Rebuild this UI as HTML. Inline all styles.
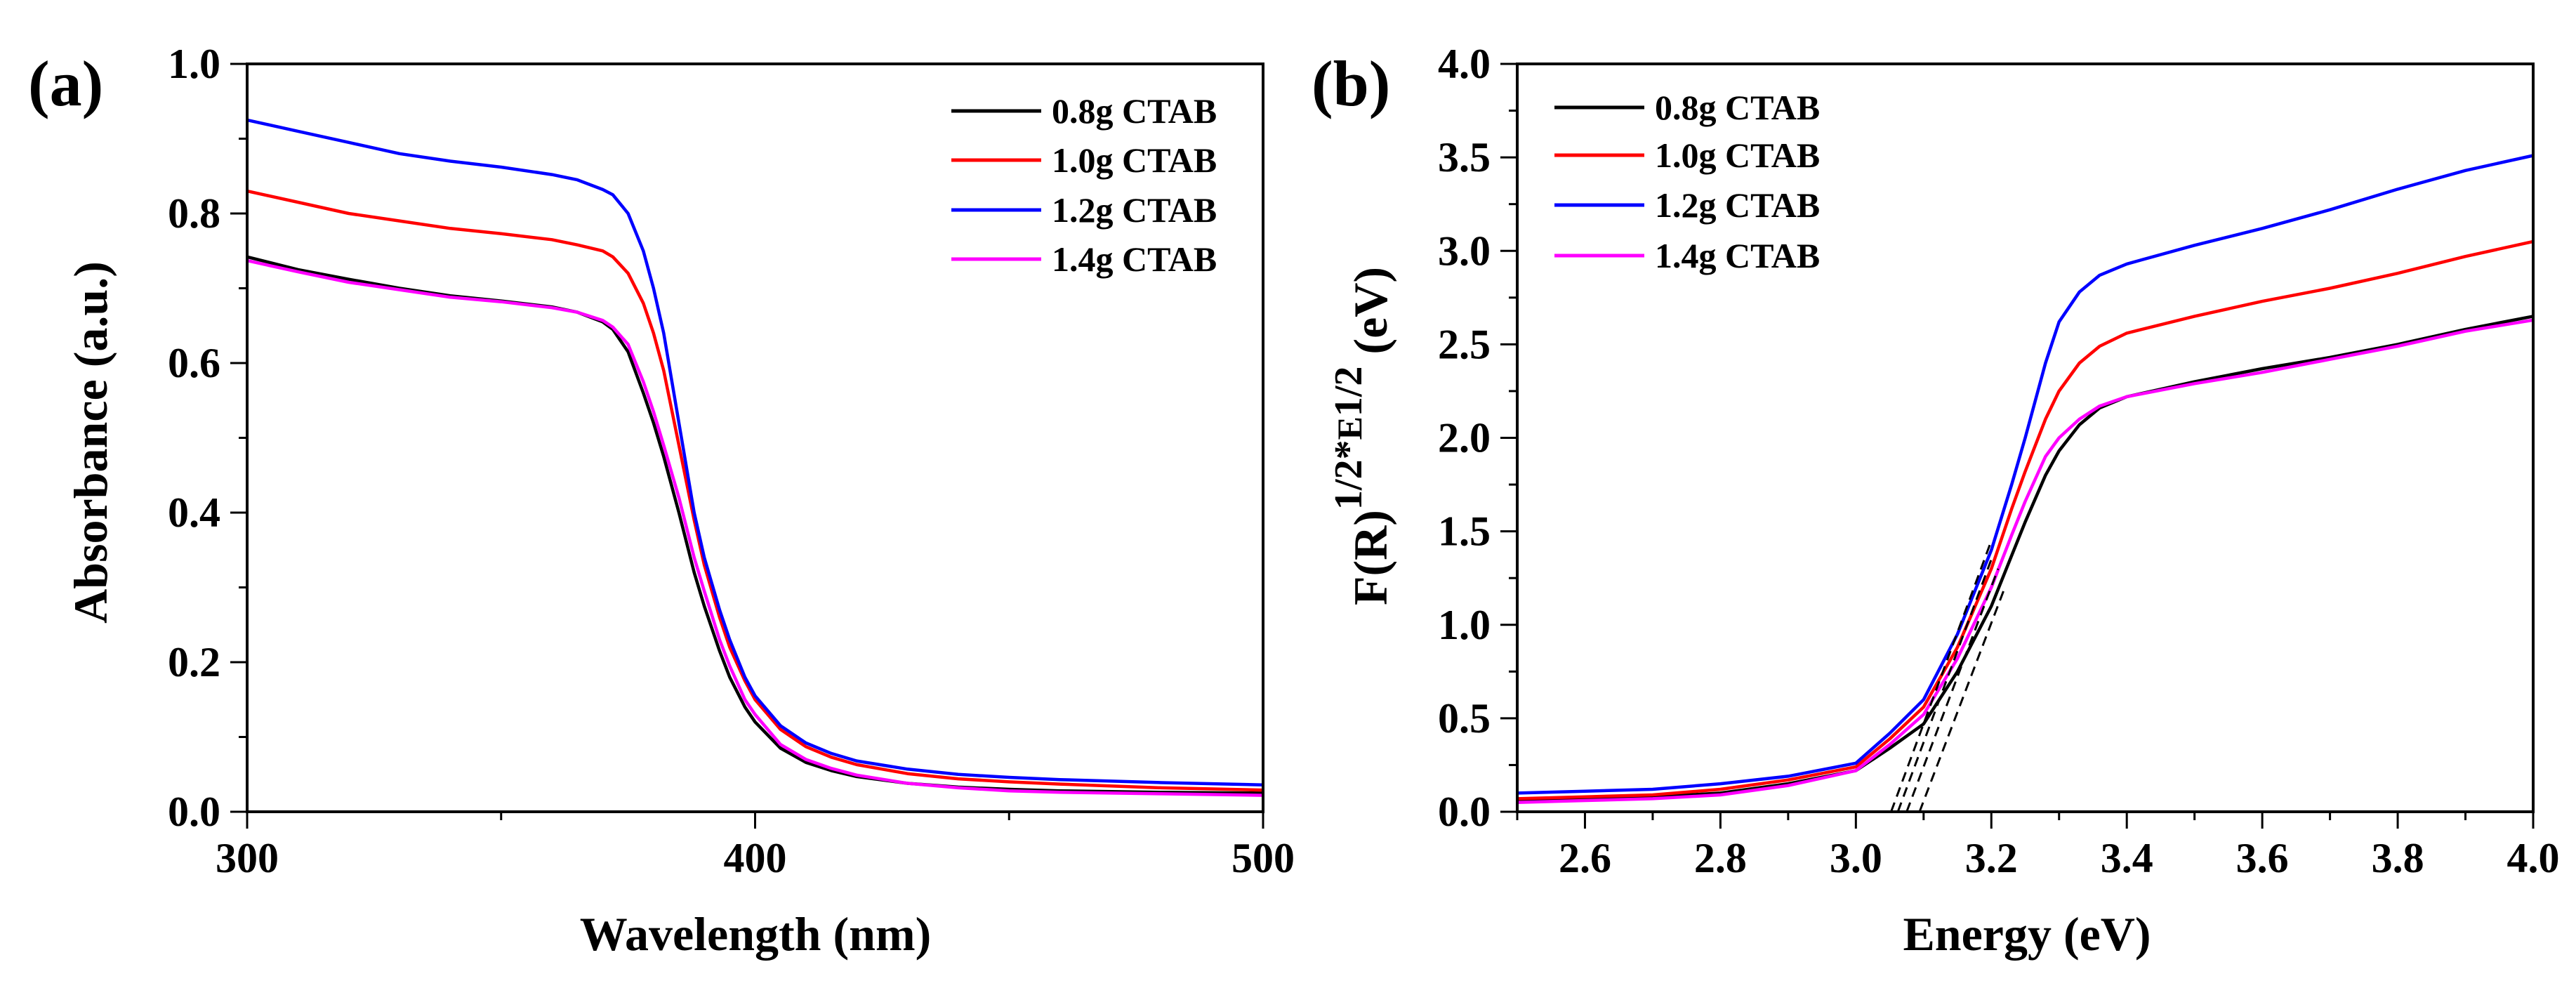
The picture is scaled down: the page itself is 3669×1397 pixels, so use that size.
<!DOCTYPE html>
<html><head><meta charset="utf-8"><style>
html,body{margin:0;padding:0;background:#fff;}
svg{display:block;}
text{font-family:"Liberation Serif","Times New Roman",serif;font-weight:bold;}
</style></head><body>
<svg id="fig" width="3669" height="1397" viewBox="0 0 3669 1397" xmlns="http://www.w3.org/2000/svg">
<g id="pa"></g>
<g id="pb"></g>
<text x="40" y="150" font-size="92">(a)</text>
<text x="1868" y="150" font-size="92">(b)</text>
<text x="1076" y="1353" font-size="68" text-anchor="middle">Wavelength (nm)</text>
<text x="2887" y="1353" font-size="68" text-anchor="middle">Energy (eV)</text>
<text transform="translate(152,630) rotate(-90)" font-size="68" text-anchor="middle">Absorbance (a.u.)</text>
<text transform="translate(1975,862) rotate(-90)" font-size="68">F(R)<tspan dy="-36" font-size="56">1/2</tspan><tspan font-size="56">*</tspan><tspan font-size="50">E</tspan><tspan font-size="56">1/2</tspan><tspan dy="36" font-size="68"> (eV)</tspan></text>
</svg>
<script>
// ---- Panel (a) data ----
const wl = [300,310,320,330,340,350,360,365,370,372,375,378,380,382,385,388,390,393,395,398,400,405,410,415,420,430,440,450,460,480,500];
const absBlack = [0.742,0.725,0.712,0.700,0.690,0.683,0.675,0.668,0.655,0.645,0.615,0.560,0.520,0.475,0.400,0.320,0.275,0.215,0.180,0.140,0.120,0.085,0.066,0.055,0.047,0.038,0.033,0.030,0.028,0.026,0.025];
const absRed = [0.830,0.815,0.800,0.790,0.780,0.773,0.765,0.758,0.750,0.742,0.720,0.680,0.640,0.590,0.490,0.390,0.330,0.260,0.220,0.175,0.150,0.110,0.087,0.073,0.063,0.051,0.044,0.040,0.037,0.032,0.029];
const absBlue = [0.925,0.910,0.895,0.880,0.870,0.862,0.852,0.845,0.832,0.825,0.800,0.750,0.700,0.640,0.520,0.400,0.340,0.270,0.230,0.180,0.155,0.115,0.092,0.078,0.068,0.057,0.050,0.046,0.043,0.039,0.036];
const absMag = [0.737,0.722,0.708,0.698,0.688,0.682,0.674,0.668,0.657,0.648,0.625,0.575,0.535,0.490,0.420,0.340,0.295,0.230,0.195,0.150,0.130,0.090,0.070,0.058,0.049,0.038,0.032,0.028,0.026,0.024,0.022];
const aXTicks = [300,400,500];
const aYTicks = [0.0,0.2,0.4,0.6,0.8,1.0];
// ---- Panel (b) data ----
const en = [2.5,2.6,2.7,2.8,2.9,3.0,3.05,3.1,3.15,3.2,3.23,3.25,3.28,3.3,3.33,3.36,3.4,3.5,3.6,3.7,3.8,3.9,4.0];
const tBlack = [0.06,0.07,0.08,0.10,0.15,0.22,0.34,0.47,0.75,1.10,1.37,1.55,1.80,1.93,2.07,2.16,2.22,2.30,2.37,2.43,2.50,2.58,2.65];
const tRed = [0.07,0.08,0.09,0.12,0.17,0.24,0.39,0.56,0.88,1.30,1.62,1.82,2.10,2.25,2.40,2.49,2.56,2.65,2.73,2.80,2.88,2.97,3.05];
const tBlue = [0.10,0.11,0.12,0.15,0.19,0.26,0.42,0.60,0.95,1.40,1.75,2.00,2.40,2.62,2.78,2.87,2.93,3.03,3.12,3.22,3.33,3.43,3.51];
const tMag = [0.05,0.06,0.07,0.09,0.14,0.22,0.36,0.52,0.82,1.20,1.48,1.66,1.90,2.00,2.10,2.17,2.22,2.29,2.35,2.42,2.49,2.57,2.63];
const fitX0 = [3.052,3.062,3.075,3.094];
const fitX1 = [3.20,3.20,3.21,3.22];
const fitY1 = [1.45,1.35,1.30,1.20];
const bXTicks = [2.6,2.8,3.0,3.2,3.4,3.6,3.8,4.0];
const bYTicks = [0.0,0.5,1.0,1.5,2.0,2.5,3.0,3.5,4.0];
const legendLabels = ["0.8g CTAB","1.0g CTAB","1.2g CTAB","1.4g CTAB"];
const colors = ["#000000","#ff0000","#0000ff","#ff00ff"];

const NS="http://www.w3.org/2000/svg";
function mk(parent,tag,attrs,txt){const e=document.createElementNS(NS,tag);for(const k in attrs)e.setAttribute(k,attrs[k]);if(txt!==undefined)e.textContent=txt;parent.appendChild(e);return e;}
function lin(d0,d1,r0,r1){return v=>r0+(v-d0)/(d1-d0)*(r1-r0);}

function panel(g,o){
  const sx=lin(o.xmin,o.xmax,o.L,o.R), sy=lin(o.ymin,o.ymax,o.B,o.T);
  o.series.forEach((s,i)=>{
    const p=mk(g,'polyline',{points:o.xs.map((x,j)=>sx(x).toFixed(1)+','+sy(s[j]).toFixed(1)).join(' '),fill:'none',stroke:colors[i],'stroke-width':4.5,'stroke-linejoin':'round'});
    
    
  });
  if(o.fits){
    for(let i=0;i<fitX0.length;i++){
      const l=mk(g,'line',{x1:sx(fitX0[i]),y1:sy(0),x2:sx(fitX1[i]),y2:sy(fitY1[i]),stroke:'#000','stroke-width':3,'stroke-dasharray':'14,9'});
      
      
    }
  }
  const f=mk(g,'rect',{x:o.L,y:o.T,width:o.R-o.L,height:o.B-o.T,fill:'none',stroke:'#000','stroke-width':4});
  
  
  o.xt.forEach(v=>{
    mk(g,'line',{x1:sx(v),y1:o.B,x2:sx(v),y2:o.B+24,stroke:'#000','stroke-width':3});
    const t=mk(g,'text',{x:sx(v),y:o.B+86,'text-anchor':'middle','font-size':60},o.xfmt(v));
    
    
  });
  for(let v=o.xmin;v<=o.xmax+1e-9;v+=o.xminor){
    if(o.xt.some(m=>Math.abs(m-v)<1e-6))continue;
    mk(g,'line',{x1:sx(v),y1:o.B,x2:sx(v),y2:o.B+12,stroke:'#000','stroke-width':3});
  }
  o.yt.forEach(v=>{
    mk(g,'line',{x1:o.L,y1:sy(v),x2:o.L-24,y2:sy(v),stroke:'#000','stroke-width':3});
    const t=mk(g,'text',{x:o.L-38,y:sy(v)+20,'text-anchor':'end','font-size':60},v.toFixed(1));
    
    
  });
  for(let v=o.ymin;v<=o.ymax+1e-9;v+=o.yminor){
    if(o.yt.some(m=>Math.abs(m-v)<1e-6))continue;
    mk(g,'line',{x1:o.L,y1:sy(v),x2:o.L-12,y2:sy(v),stroke:'#000','stroke-width':3});
  }
  legendLabels.forEach((lab,i)=>{
    const y=o.legY[i];
    const lg=mk(g,'g',{});
    
    
    mk(lg,'line',{x1:o.legX,y1:y,x2:o.legX+128,y2:y,stroke:colors[i],'stroke-width':5});
    mk(lg,'text',{x:o.legX+143,y:y+17,'font-size':50},lab);
  });
}

panel(document.getElementById('pa'),{L:352,R:1799,T:91,B:1156,xmin:300,xmax:500,ymin:0,ymax:1,
  xs:wl,series:[absBlack,absRed,absBlue,absMag],xt:aXTicks,yt:aYTicks,xminor:50,yminor:0.1,
  xfmt:v=>String(v),legX:1355,legY:[158,228,299,369],fits:false});
panel(document.getElementById('pb'),{L:2161,R:3608,T:91,B:1156,xmin:2.5,xmax:4.0,ymin:0,ymax:4,
  xs:en,series:[tBlack,tRed,tBlue,tMag],xt:bXTicks,yt:bYTicks,xminor:0.1,yminor:0.25,
  xfmt:v=>v.toFixed(1),legX:2214,legY:[153,221,292,364],fits:true});
</script>
</body></html>
